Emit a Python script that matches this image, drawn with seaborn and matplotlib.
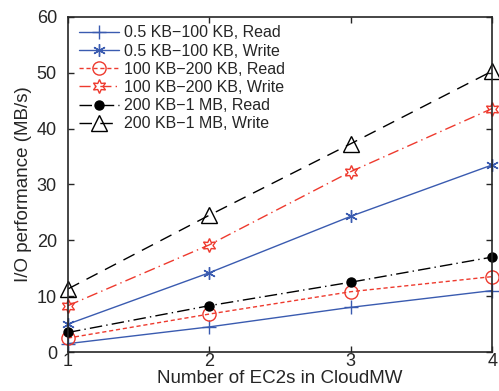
import pandas as pd
import matplotlib
matplotlib.use("Agg")
import matplotlib.pyplot as plt
import seaborn as sns

ec2s = [1, 2, 3, 4]
read_small = [1.5, 4.5, 8.0, 11.0]
write_small = [5.0, 14.2, 24.3, 33.5]
read_mid = [2.5, 6.8, 10.8, 13.5]
write_mid = [8.3, 19.2, 32.3, 43.6]
read_big = [3.5, 8.3, 12.5, 17.0]
write_big = [11.3, 24.5, 37.3, 50.3]

labels = ["0.5 KB\u2212100 KB, Read", "0.5 KB\u2212100 KB, Write",
          "100 KB\u2212200 KB, Read", "100 KB\u2212200 KB, Write",
          "200 KB\u22121 MB, Read", "200 KB\u22121 MB, Write"]

sns.set_style("ticks")
plt.rcParams['font.family'] = ['Liberation Sans', 'DejaVu Sans']
plt.rcParams['xtick.direction'] = 'in'
plt.rcParams['ytick.direction'] = 'in'

blue = "#3a5bb0"
red = "#ee3a2e"
styles = [
    dict(color=blue, ls='-', marker='+', ms=10, mfc='none'),
    dict(color=blue, ls='-', marker=(6, 2, 0), ms=9, mfc='none'),
    dict(color=red, ls=(0, (3, 2)), marker='o', ms=9.5, mfc='none'),
    dict(color=red, ls=(0, (8, 3, 1, 3)), marker=(6, 1, 0), ms=10, mfc='none'),
    dict(color='black', ls=(0, (9, 3, 1, 3)), marker='o', ms=6.5, mfc='black'),
    dict(color='black', ls=(0, (9, 6)), marker='^', ms=11, mfc='none'),
]
series = [read_small, write_small, read_mid, write_mid, read_big, write_big]

fig = plt.figure(figsize=(4.99, 3.91), dpi=100)
ax = fig.add_axes([0.1363, 0.0997, 0.850, 0.857])

for vals, lab, st in zip(series, labels, styles):
    df = pd.DataFrame({"x": ec2s, "y": vals})
    sns.lineplot(data=df, x="x", y="y", ax=ax, label=lab, color=st['color'],
                 linestyle=st['ls'], marker=st['marker'], markersize=st['ms'],
                 markerfacecolor=st['mfc'], markeredgecolor=st['color'],
                 markeredgewidth=1.0, linewidth=1.0, clip_on=False)

ax.set_xlim(1, 4)
ax.set_ylim(0, 60)
ax.set_xticks([1, 2, 3, 4])
ax.set_yticks(range(0, 61, 10))
ax.tick_params(labelsize=13, top=True, right=True, length=4, width=1)
ax.tick_params(axis='x', pad=1)
ax.tick_params(axis='y', pad=8)
for s in ax.spines.values():
    s.set_linewidth(1.2)
ax.set_xlabel("Number of EC2s in CloudMW", fontsize=13.5, labelpad=0)
ax.set_ylabel("I/O performance (MB/s)", fontsize=13.5, labelpad=3)

ax.legend(loc="upper left", fontsize=11.5, handlelength=2.5, frameon=False,
          borderpad=0.2, labelspacing=0.2, handletextpad=0.3,
          bbox_to_anchor=(0.0, 1.008))

fig.savefig("out.png", dpi=100)
